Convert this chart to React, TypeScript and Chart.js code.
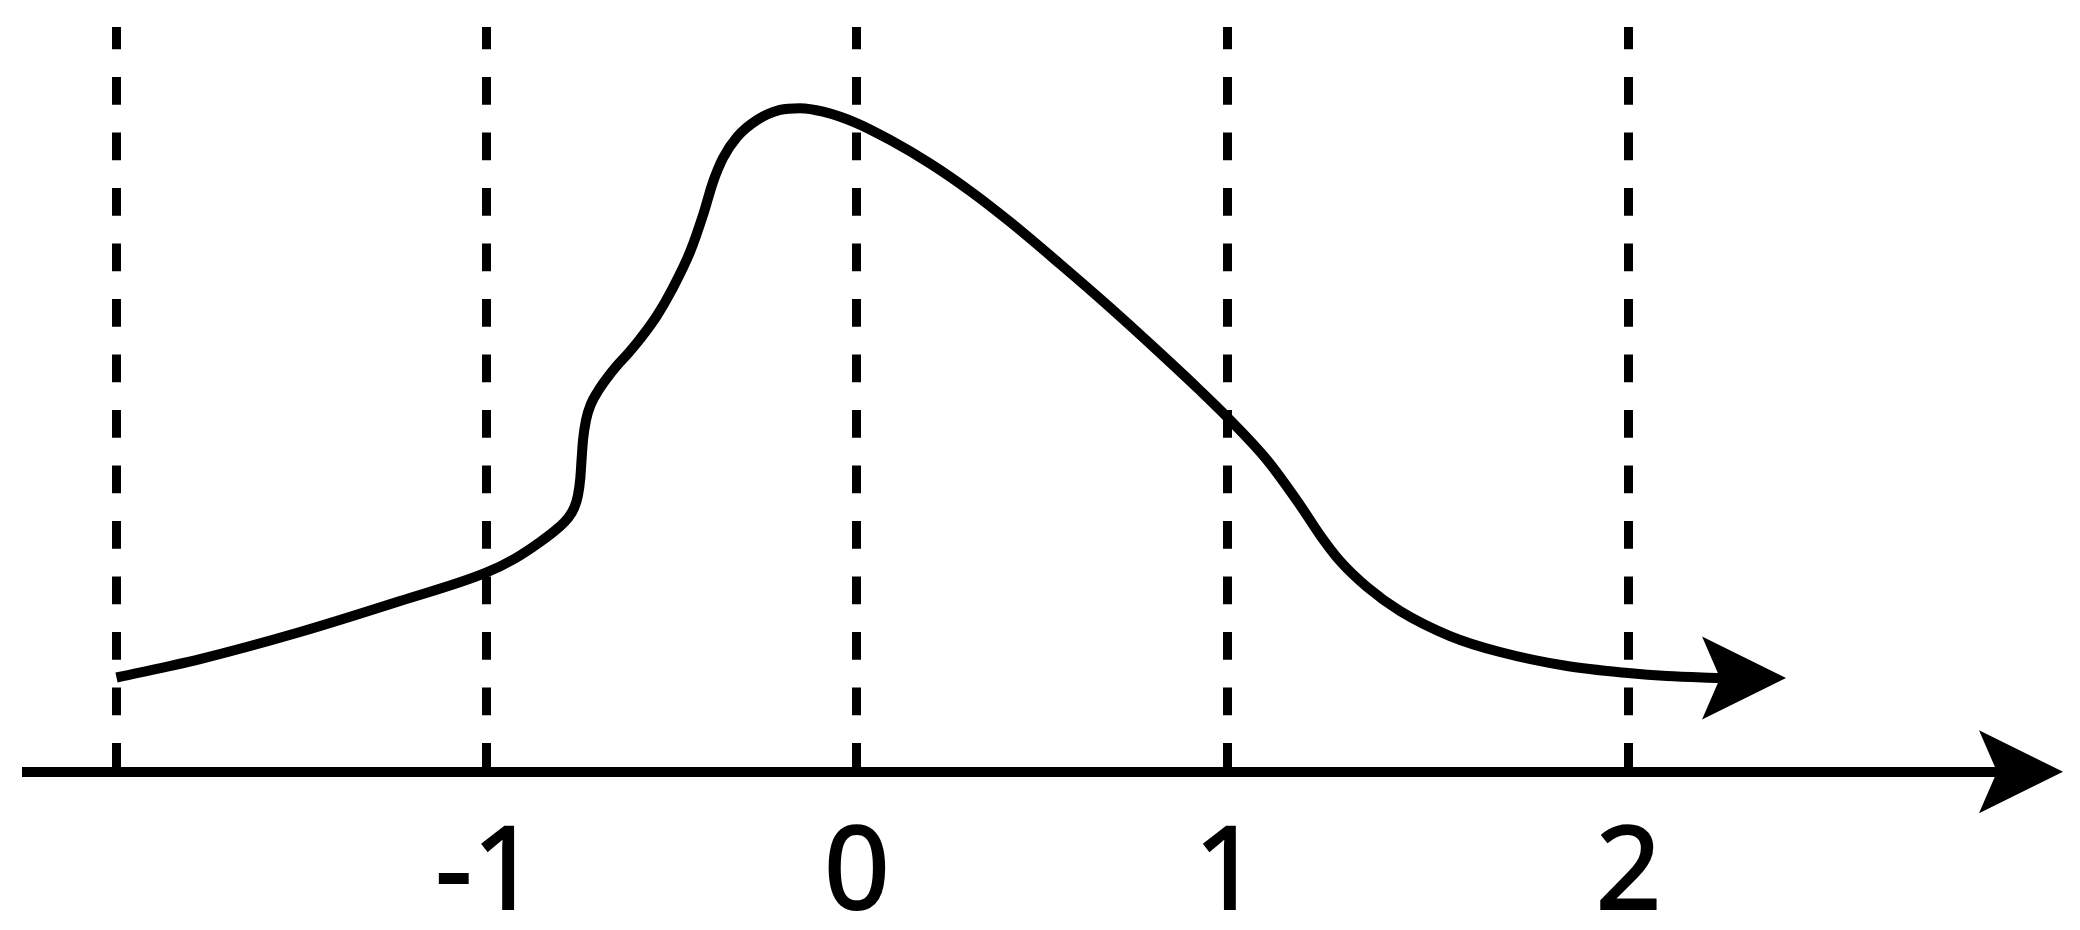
import React, { useEffect, useRef } from "react";
import { Chart, registerables } from "chart.js";

Chart.register(...registerables);

// Curve (x in axis units, y in arbitrary height units 0..100)
const curveX = [
  -2.0, -1.7743, -1.5042, -1.234, -1.0017, -0.9234, -0.8558, -0.8072, -0.7802, -0.764,
  -0.7532, -0.747, -0.7437, -0.7397, -0.7316, -0.7181, -0.6991, -0.6748, -0.6478, -0.6181,
  -0.5857, -0.5406, -0.5, -0.4506, -0.4155, -0.3885, -0.3615, -0.3236, -0.2696, -0.2075,
  -0.1534, -0.0913, 0.0005, 0.0897, 0.1977, 0.3058, 0.4139, 0.5489, 0.684, 0.8191,
  0.9271, 1.0028, 1.1081, 1.1973, 1.2513, 1.3053, 1.3783, 1.4674, 1.6025, 1.7376,
  1.9186, 2.0834, 2.1887, 2.3319,
];
const curveY = [
  12.65, 15.12, 18.75, 22.91, 26.72, 28.63, 30.84, 32.72, 34.07, 35.41,
  37.16, 39.44, 41.86, 44.54, 47.23, 49.38, 51.12, 52.87, 54.55, 56.16,
  58.1, 61.19, 64.68, 69.79, 74.75, 79.19, 82.41, 85.23, 87.51, 88.86,
  89.1, 88.63, 87.07, 84.83, 81.67, 77.98, 73.82, 68.17, 62.33, 56.22,
  51.19, 47.5, 41.86, 35.81, 31.78, 28.29, 24.8, 21.58, 18.22, 16.07,
  14.19, 13.25, 12.85, 12.58,
];

const tickValues = [-2, -1, 0, 1, 2.085];
const tickLabels = ["", "-1", "0", "1", "2"];

const X_MIN = -2.2418;
const X_MAX = 3.0801;
const Y_MIN = 0;
const Y_MAX = 100;

const FONT_FAMILY = "'Noto Sans', Arial, sans-serif";

function drawArrowHead(ctx: CanvasRenderingContext2D, nx: number, ny: number) {
  ctx.save();
  ctx.fillStyle = "#000";
  ctx.beginPath();
  ctx.moveTo(nx + 66, ny);
  ctx.lineTo(nx - 18, ny - 41.5);
  ctx.lineTo(nx, ny);
  ctx.lineTo(nx - 18, ny + 41.5);
  ctx.closePath();
  ctx.fill();
  ctx.restore();
}

const arrowPlugin = {
  id: "arrowHeads",
  afterDatasetsDraw(chart: any) {
    const meta = chart.getDatasetMeta(0);
    const pt = meta.data[meta.data.length - 1];
    if (pt) drawArrowHead(chart.ctx, pt.x, pt.y);
  },
  afterDraw(chart: any) {
    const xs = chart.scales.x;
    drawArrowHead(chart.ctx, xs.right, xs.top);
  },
};

export default function App() {
  const ref = useRef<HTMLCanvasElement | null>(null);

  useEffect(() => {
    let chart: Chart | null = null;
    let cancelled = false;
    const build = () => {
      if (cancelled || !ref.current) return;
      const font = { family: FONT_FAMILY, size: 115, lineHeight: 1 };
      chart = new Chart(ref.current, {
        type: "line",
        data: {
          datasets: [
            {
              data: curveX.map((x, i) => ({ x, y: curveY[i] })),
              borderColor: "#000",
              borderWidth: 10,
              cubicInterpolationMode: "monotone",
              pointRadius: 0,
              fill: false,
            },
          ],
        },
        options: {
          responsive: false,
          animation: false,
          devicePixelRatio: 1,
          layout: { padding: { left: 27, right: 83, top: 27, bottom: 0 } },
          plugins: { legend: { display: false }, tooltip: { enabled: false } },
          scales: {
            x: {
              type: "linear",
              min: X_MIN,
              max: X_MAX,
              afterBuildTicks: (s: any) => {
                s.ticks = tickValues.map((v) => ({ value: v }));
              },
              afterFit: (s: any) => {
                s.height = 158.3;
              },
              ticks: {
                autoSkip: false,
                maxRotation: 0,
                minRotation: 0,
                padding: 47,
                color: "#000",
                textStrokeColor: "#000",
                textStrokeWidth: 2,
                font,
                callback: (_v: any, i: number) => tickLabels[i],
              },
              grid: { color: "#000", lineWidth: 9, drawTicks: false, drawOnChartArea: true },
              border: { display: true, color: "#000", width: 10, dash: [27.75, 27.75], dashOffset: 5.5 },
            },
            y: { display: false, min: Y_MIN, max: Y_MAX },
          },
        } as any,
        plugins: [arrowPlugin],
      });
    };
    const fonts: any = (document as any).fonts;
    if (fonts && fonts.load) {
      fonts.load("115px 'Noto Sans'").then(build, build);
    } else {
      build();
    }
    return () => {
      cancelled = true;
      if (chart) chart.destroy();
    };
  }, []);

  return (
    <div style={{ position: "fixed", left: 0, top: 0, width: 2080, height: 930, background: "#fff" }}>
      <span style={{ position: "absolute", left: -9999, top: 0, fontFamily: FONT_FAMILY, fontSize: 115 }}>-1 0 1 2</span>
      <canvas ref={ref} width={2080} height={930} style={{ display: "block" }} />
    </div>
  );
}
